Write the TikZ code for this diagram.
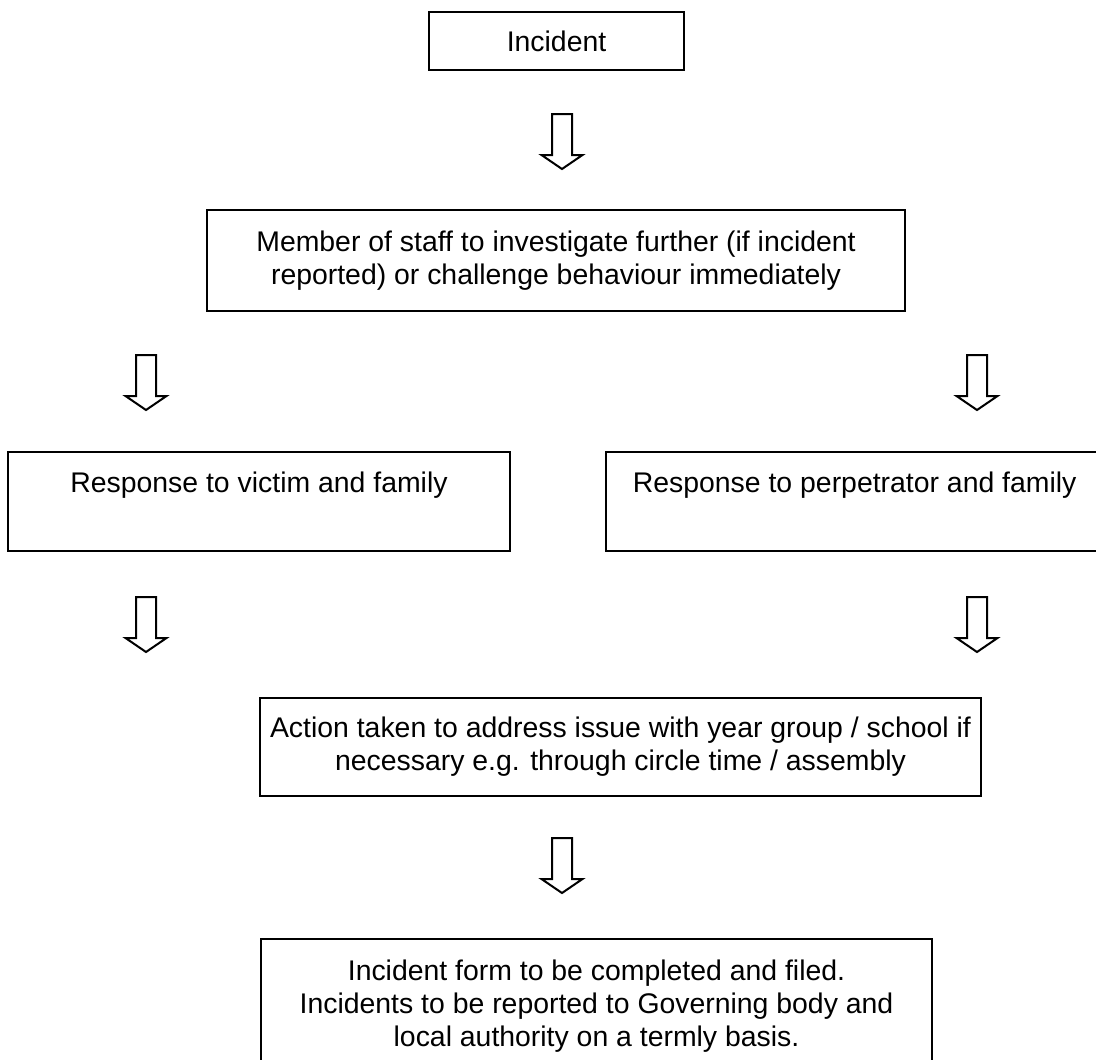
\documentclass[tikz,border=0pt]{standalone}
\usepackage{fontspec}
\setmainfont{Liberation Sans}
\usetikzlibrary{positioning}
\tikzstyle{fbox}=[rectangle, draw=black, line width=1.5pt, inner sep=0pt, anchor=north west,
                  text centered, align=center, font=\fontsize{21.3pt}{24.75pt}\selectfont]
\tikzstyle{rbox}=[rectangle, draw=black, line width=1.5pt, inner xsep=0pt, inner ysep=0pt,
                  anchor=north west, text centered, text height=30pt, text depth=44.25pt,
                  font=\fontsize{21.3pt}{24.75pt}\selectfont]
\tikzstyle{barrow}=[draw=black, line width=1.5pt, fill=white, line join=miter]
\newcommand{\blockarrow}[1]{\draw[barrow] (#1) ++(-10,0) -- ++(20,0) -- ++(0,41)
  -- ++(10.5,0) -- ++(-20.5,14) -- ++(-20.5,-14) -- ++(10.5,0) -- cycle;}

\begin{document}
\begin{tikzpicture}[x=0.75pt, y=-0.75pt]
\useasboundingbox (0,0) rectangle (1096,1060);
\clip (0,0) rectangle (1096,1060);

\node (inc) [fbox, minimum width=191.25pt, minimum height=43.5pt] at (428,11) {Incident};
\coordinate (arrinc) at (562,114);
\blockarrow{arrinc}

\node (staff) [fbox, minimum width=523.5pt, minimum height=75.75pt] at (206,209)
  {Member of staff to investigate further (if incident\\reported) or challenge behaviour immediately};
\coordinate (arrvicI) at (146,355);
\coordinate (arrperI) at (977,355);
\blockarrow{arrvicI}
\blockarrow{arrperI}

\node (victim) [rbox, minimum width=376.5pt] at (7,451) {Response to victim and family};
\node (perp) [rbox, minimum width=373pt, right=70.5pt of victim] {Response to perpetrator and family};
\coordinate (arrvicII) at (146,597);
\coordinate (arrperII) at (977,597);
\blockarrow{arrvicII}
\blockarrow{arrperII}

\node (action) [fbox, minimum width=540.75pt, minimum height=73.5pt] at (259,697)
  {Action taken to address issue with year group / school if\\necessary e.g. through circle time / assembly};
\coordinate (arract) at (562,838);
\blockarrow{arract}

\node (form) [fbox, minimum width=503.25pt, minimum height=100.5pt] at (260,938)
  {Incident form to be completed and filed.\\Incidents to be reported to Governing body and\\local authority on a termly basis.};

\end{tikzpicture}
\end{document}
